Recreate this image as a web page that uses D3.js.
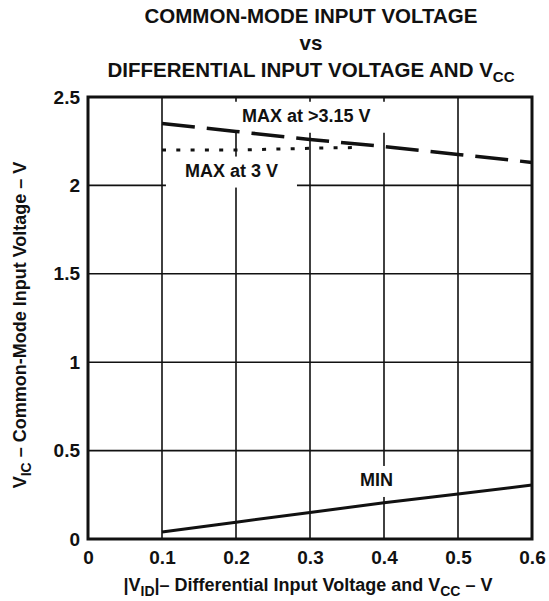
<!DOCTYPE html>
<html lang="en">
<head>
	<meta charset="utf-8">
	<title>Common-Mode Input Voltage vs Differential Input Voltage</title>
	<style>
		body { margin: 0; background: white; }
		svg text { font-family: "Liberation Sans", Arial, sans-serif; font-weight: bold; fill: #111; }
	</style>
	<script src="https://d3js.org/d3.v7.min.js"></script>
</head>
<body>
	<script>
            // data
            var xTicks = [0, 0.1, 0.2, 0.3, 0.4, 0.5, 0.6];
            var yTicks = [0, 0.5, 1, 1.5, 2, 2.5];
            var vid = [0.1, 0.2, 0.3, 0.4, 0.5, 0.6];
            var maxAbove315 = [2.35, 2.305, 2.26, 2.22, 2.175, 2.13];
            var minVic = [0.04, 0.095, 0.15, 0.205, 0.255, 0.305];
            var vid3V = [0.1, 0.2, 0.3, 0.37];
            var max3V = [2.2, 2.2, 2.21, 2.215];

            var w = 549, h = 601;
            // plot frame (note: "top" is reserved on window)
            var pLeft = 88, pRight = 532, pTop = 97, pBottom = 539;

            var svg = d3.select("body").append("svg")
                .attr("width", w)
                .attr("height", h);

            var x = d3.scaleLinear().domain([0, 0.6]).range([pLeft, pRight]);
            var y = d3.scaleLinear().domain([0, 2.5]).range([pBottom, pTop]);

            // title
            var title = svg.append("g").attr("text-anchor", "middle").style("font-size", "20.5px");
            title.append("text").attr("x", 311).attr("y", 23).text("COMMON-MODE INPUT VOLTAGE");
            title.append("text").attr("x", 311).attr("y", 50).text("vs");
            var t3 = title.append("text").attr("x", 311).attr("y", 77);
            t3.append("tspan").text("DIFFERENTIAL INPUT VOLTAGE AND V");
            t3.append("tspan").attr("dy", 5).style("font-size", "15px").text("CC");

            // grid
            svg.append("g").selectAll("line")
                .data(xTicks.slice(1, -1))
                .enter().append("line")
                .attr("x1", d => x(d)).attr("x2", d => x(d))
                .attr("y1", pTop).attr("y2", pBottom)
                .attr("stroke", "#111").attr("stroke-width", 1.6);
            svg.append("g").selectAll("line")
                .data(yTicks.slice(1, -1))
                .enter().append("line")
                .attr("x1", pLeft).attr("x2", pRight)
                .attr("y1", d => y(d)).attr("y2", d => y(d))
                .attr("stroke", "#111").attr("stroke-width", 1.6);

            // curve labels (with white boxes that break the grid)
            var labels = [
                { text: "MAX at >3.15 V", vx: 0.208, vy: 2.36 },
                { text: "MAX at 3 V", vx: 0.131, vy: 2.05 },
                { text: "MIN", vx: 0.3676, vy: 0.3 }
            ];
            var boxes = svg.append("g");
            var lines = svg.append("g");
            var labelG = svg.append("g").style("font-size", "18px");
            labels.forEach(function (l) {
                var t = labelG.append("text")
                    .attr("x", x(l.vx))
                    .attr("y", y(l.vy))
                    .text(l.text);
                var b = t.node().getBBox();
                var y0 = Math.max(pTop, b.y - 4);
                boxes.append("rect")
                    .attr("x", b.x - 19)
                    .attr("y", y0)
                    .attr("width", b.width + 38)
                    .attr("height", b.y + b.height + 7 - y0)
                    .attr("fill", "white");
            });

            var line = d3.line()
                .x(d => x(d[0]))
                .y(d => y(d[1]));

            lines.append("path")
                .datum(d3.zip(vid, maxAbove315))
                .attr("d", line)
                .attr("fill", "none")
                .attr("stroke", "#111")
                .attr("stroke-width", 3.5)
                .attr("stroke-dasharray", "33,12");
            lines.append("path")
                .datum(d3.zip(vid3V, max3V))
                .attr("d", line)
                .attr("fill", "none")
                .attr("stroke", "#111")
                .attr("stroke-width", 3)
                .attr("stroke-dasharray", "4,10.3");
            lines.append("path")
                .datum(d3.zip(vid, minVic))
                .attr("d", line)
                .attr("fill", "none")
                .attr("stroke", "#111")
                .attr("stroke-width", 3);

            // frame
            svg.append("rect")
                .attr("x", pLeft).attr("y", pTop)
                .attr("width", pRight - pLeft).attr("height", pBottom - pTop)
                .attr("fill", "none")
                .attr("stroke", "#111")
                .attr("stroke-width", 3);

            // axes
            var xAxis = d3.axisBottom(x)
                .tickValues(xTicks)
                .tickSize(0)
                .tickPadding(12)
                .tickFormat(d => String(d));
            var yAxis = d3.axisLeft(y)
                .tickValues(yTicks)
                .tickSize(0)
                .tickPadding(8)
                .tickFormat(d => String(d));
            var gx = svg.append("g")
                .attr("transform", "translate(0," + pBottom + ")")
                .call(xAxis);
            var gy = svg.append("g")
                .attr("transform", "translate(" + pLeft + ",0)")
                .call(yAxis);
            [gx, gy].forEach(function (g) {
                g.select(".domain").remove();
                g.selectAll("text")
                    .attr("fill", "#111")
                    .style("font-family", "'Liberation Sans', Arial, sans-serif")
                    .style("font-weight", "bold")
                    .style("font-size", "19px");
            });

            // axis titles
            var xl = svg.append("text")
                .attr("x", 308)
                .attr("y", 591)
                .attr("text-anchor", "middle")
                .style("font-size", "18px");
            xl.append("tspan").text("|V");
            xl.append("tspan").attr("dy", 5).style("font-size", "14px").text("ID");
            xl.append("tspan").attr("dy", -5).text("|– Differential Input Voltage and V");
            xl.append("tspan").attr("dy", 5).style("font-size", "14px").text("CC");
            xl.append("tspan").attr("dy", -5).text(" – V");

            var yl = svg.append("text")
                .attr("transform", "translate(26,325) rotate(-90)")
                .attr("text-anchor", "middle")
                .style("font-size", "18px");
            yl.append("tspan").text("V");
            yl.append("tspan").attr("dy", 5).style("font-size", "14px").text("IC");
            yl.append("tspan").attr("dy", -5).text(" – Common-Mode Input Voltage – V");
	</script>
</body>
</html>
